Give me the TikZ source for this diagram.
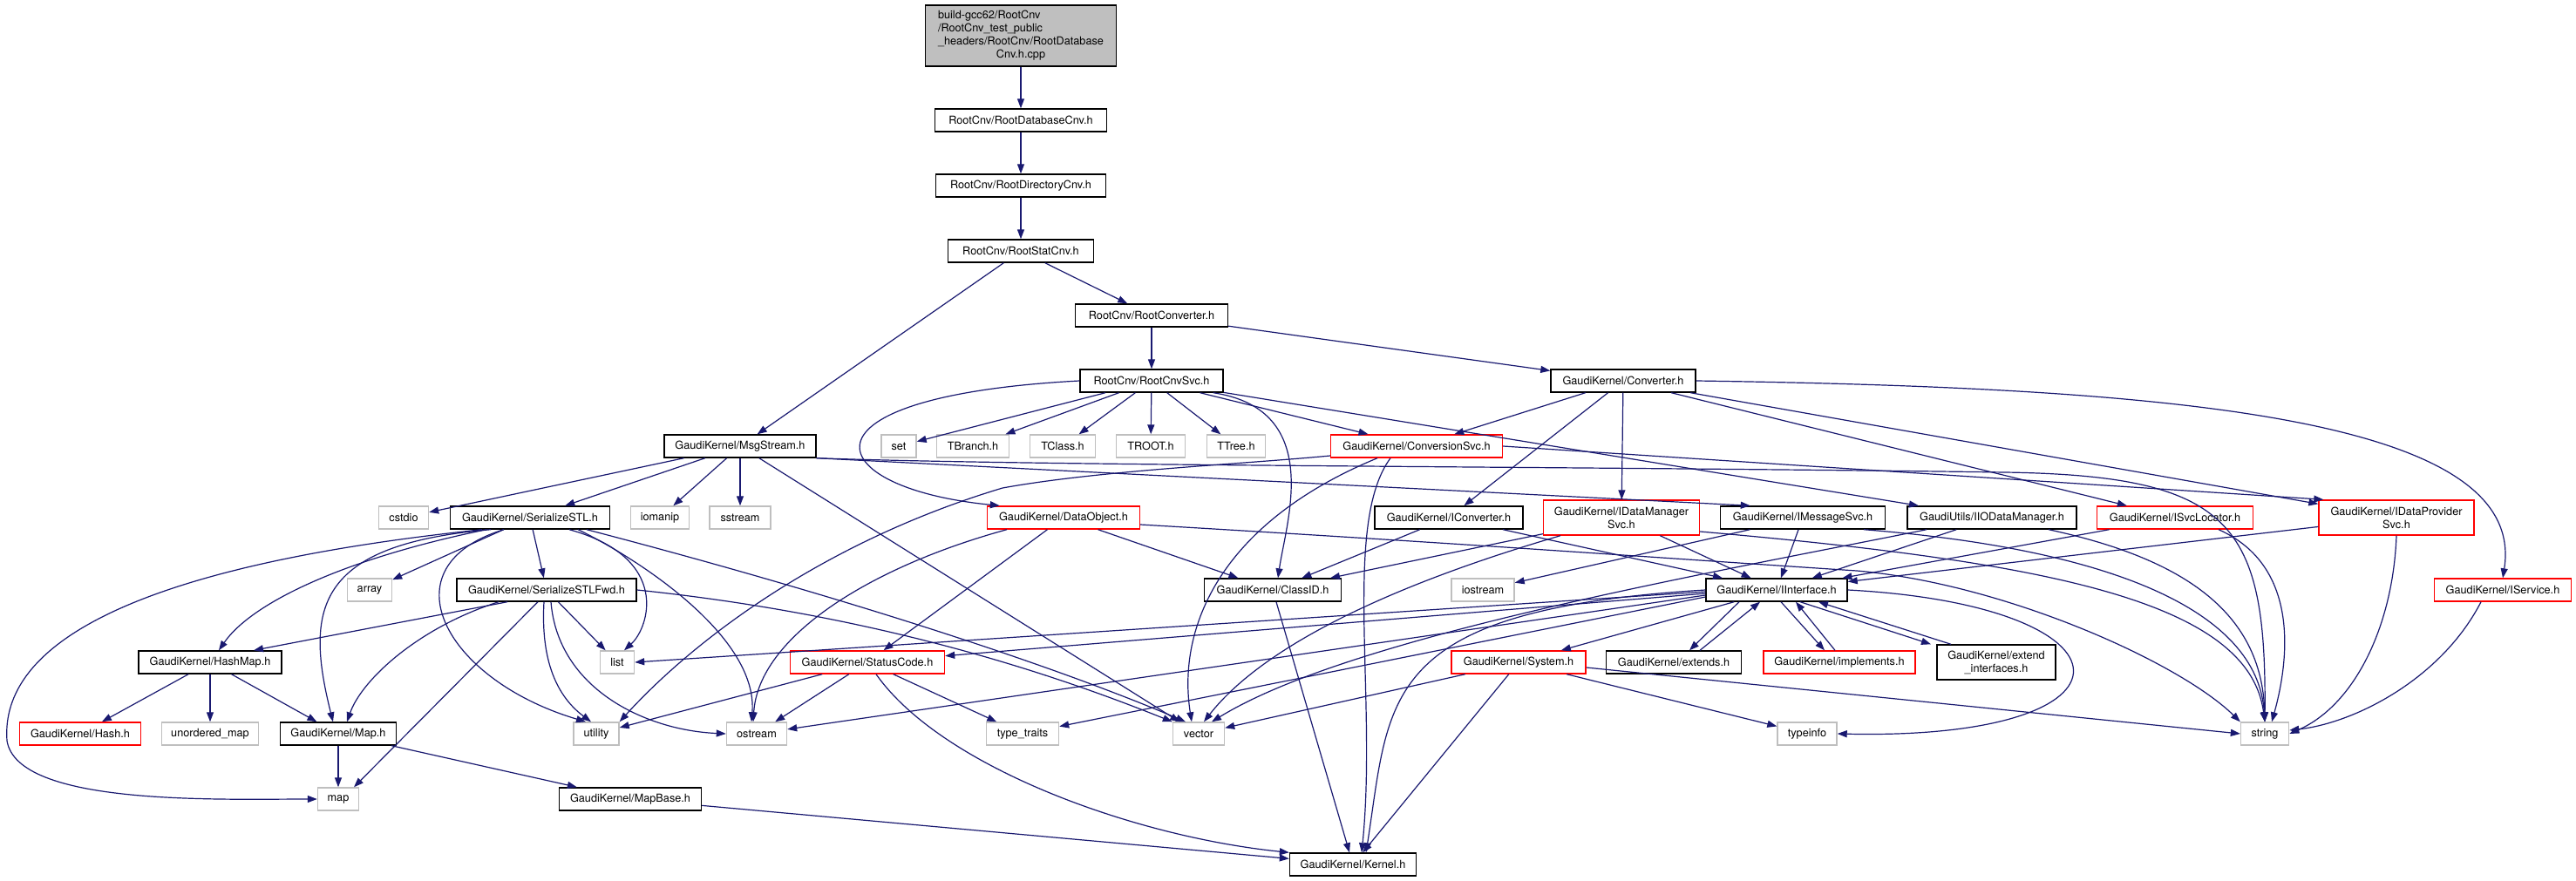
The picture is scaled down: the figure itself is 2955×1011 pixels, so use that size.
\documentclass[tikz,border=0pt]{standalone}
\usepackage{fontspec}
\setmainfont{TeX Gyre Heros}
\usetikzlibrary{arrows.meta}
\definecolor{incblue}{HTML}{191970}
\definecolor{sysgray}{HTML}{BFBFBF}

\begin{document}
\begin{tikzpicture}[x=1pt,y=-1pt,
    hdr/.style={draw=black,line width=1.4pt,fill=white,inner sep=0pt,minimum height=26pt,
      font=\fontsize{12.7}{15}\selectfont,align=center},
    sys/.style={hdr,draw=sysgray},
    trunc/.style={hdr,draw=red},
    inc/.style={draw=incblue,line width=1.2pt,-{Triangle[length=11pt,width=8pt]}}]
    \path[use as bounding box,fill=white] (0,0) rectangle (2955,1011);

    \node[hdr,fill=sysgray,minimum width=219pt,minimum height=70pt] (top) at (1171,41)
      {\begin{tabular}{@{}l@{}}build-gcc62/RootCnv\\/RootCnv\_test\_public\\\_headers/RootCnv/RootDatabase\\\multicolumn{1}{@{}c@{}}{Cnv.h.cpp}\end{tabular}};
    \node[hdr,minimum width=197pt] (rdb) at (1171,138) {RootCnv/RootDatabaseCnv.h};
    \node[hdr,minimum width=195pt] (rdir) at (1171,213) {RootCnv/RootDirectoryCnv.h};
    \node[hdr,minimum width=167pt] (rstat) at (1171,288) {RootCnv/RootStatCnv.h};
    \node[hdr,minimum width=175pt] (rconv) at (1321,362) {RootCnv/RootConverter.h};
    \node[hdr,minimum width=164pt] (rsvc) at (1321,437) {RootCnv/RootCnvSvc.h};
    \node[hdr,minimum width=166pt] (conv) at (1862,437) {GaudiKernel/Converter.h};

    \node[hdr,minimum width=174pt] (msg) at (849,512) {GaudiKernel/MsgStream.h};
    \node[sys,minimum width=40pt] (set) at (1031,512) {set};
    \node[sys,minimum width=83pt] (tbranch) at (1116,512) {TBranch.h};
    \node[sys,minimum width=75pt] (tclass) at (1219,512) {TClass.h};
    \node[sys,minimum width=79pt] (troot) at (1320,512) {TROOT.h};
    \node[sys,minimum width=67pt] (ttree) at (1418,512) {TTree.h};
    \node[trunc,minimum width=197pt] (cnvsvc) at (1625,512) {GaudiKernel/ConversionSvc.h};

    \node[sys,minimum width=57pt] (cstdio) at (463,594) {cstdio};
    \node[hdr,minimum width=183pt] (sstl) at (608,594) {GaudiKernel/SerializeSTL.h};
    \node[sys,minimum width=67pt] (iomanip) at (757,594) {iomanip};
    \node[sys,minimum width=70pt] (sstream) at (849,594) {sstream};
    \node[trunc,minimum width=175pt] (dobj) at (1220,594) {GaudiKernel/DataObject.h};
    \node[hdr,minimum width=170pt] (iconv) at (1662,594) {GaudiKernel/IConverter.h};
    \node[trunc,minimum width=179pt,minimum height=40pt] (idm) at (1860,594) {GaudiKernel/IDataManager\\Svc.h};
    \node[hdr,minimum width=189pt] (imsg) at (2068,594) {GaudiKernel/IMessageSvc.h};
    \node[hdr,minimum width=194pt] (iio) at (2285,594) {GaudiUtils/IIODataManager.h};
    \node[trunc,minimum width=179pt] (isvc) at (2495,594) {GaudiKernel/ISvcLocator.h};
    \node[trunc,minimum width=178pt,minimum height=40pt] (idp) at (2749,594) {GaudiKernel/IDataProvider\\Svc.h};

    \node[sys,minimum width=51pt] (array) at (424,677) {array};
    \node[hdr,minimum width=206pt] (sstlf) at (627,677) {GaudiKernel/SerializeSTLFwd.h};
    \node[hdr,minimum width=157pt] (classid) at (1460,677) {GaudiKernel/ClassID.h};
    \node[sys,minimum width=72pt] (iostream) at (1701,677) {iostream};
    \node[hdr,minimum width=162pt] (iint) at (2038,677) {GaudiKernel/IInterface.h};
    \node[trunc,minimum width=157pt] (iserv) at (2871,677) {GaudiKernel/IService.h};

    \node[hdr,minimum width=164pt] (hashmap) at (241,760) {GaudiKernel/HashMap.h};
    \node[sys,minimum width=39pt] (list) at (708,760) {list};
    \node[trunc,minimum width=177pt] (status) at (995,760) {GaudiKernel/StatusCode.h};
    \node[trunc,minimum width=154pt] (system) at (1742,760) {GaudiKernel/System.h};
    \node[hdr,minimum width=155pt] (extends) at (1920,760) {GaudiKernel/extends.h};
    \node[trunc,minimum width=174pt] (impl) at (2110,760) {GaudiKernel/implements.h};
    \node[hdr,minimum width=136pt,minimum height=40pt] (extif) at (2290,760) {GaudiKernel/extend\\\_interfaces.h};

    \node[trunc,minimum width=139pt] (hash) at (92,842) {GaudiKernel/Hash.h};
    \node[sys,minimum width=111pt] (umap) at (241,842) {unordered\_map};
    \node[hdr,minimum width=133pt] (mapH) at (388,842) {GaudiKernel/Map.h};
    \node[sys,minimum width=52pt] (utility) at (684,842) {utility};
    \node[sys,minimum width=69pt] (ostream) at (868,842) {ostream};
    \node[sys,minimum width=83pt] (ttraits) at (1173,842) {type\_traits};
    \node[sys,minimum width=59pt] (vector) at (1375,842) {vector};
    \node[sys,minimum width=68pt] (typeinfo) at (2073,842) {typeinfo};
    \node[sys,minimum width=55pt] (string) at (2598,842) {string};

    \node[sys,minimum width=47pt] (map) at (388,917) {map};
    \node[hdr,minimum width=163pt] (mapbase) at (723,917) {GaudiKernel/MapBase.h};
    \node[hdr,minimum width=145pt] (kernel) at (1552,992) {GaudiKernel/Kernel.h};

    \draw[inc] (top) -- (rdb);
    \draw[inc] (rdb) -- (rdir);
    \draw[inc] (rdir) -- (rstat);
    \draw[inc] (rstat) -- (rconv);
    \draw[inc] (rstat) -- (msg);
    \draw[inc] (rconv) -- (rsvc);
    \draw[inc] (rconv) -- (conv);

    \draw[inc] (rsvc) -- (set);
    \draw[inc] (rsvc) -- (tbranch);
    \draw[inc] (rsvc) -- (tclass);
    \draw[inc] (rsvc) -- (troot);
    \draw[inc] (rsvc) -- (ttree);
    \draw[inc] (rsvc) -- (cnvsvc);
    \draw[inc] (rsvc) -- (iio);
    \draw[inc] (rsvc.west) .. controls (900,455) and (940,560) .. ([xshift=15pt]dobj.north west);
    \draw[inc] ([xshift=-12pt]rsvc.south east) .. controls (1520,470) and (1475,600) .. ([xshift=6pt]classid.north);

    \draw[inc] (conv) -- (cnvsvc);
    \draw[inc] (conv) -- (iconv);
    \draw[inc] (conv) -- (idm);
    \draw[inc] (conv) -- (isvc);
    \draw[inc] (conv) -- (idp);
    \draw[inc] (conv.east) .. controls (2500,445) and (2900,480) .. (iserv.north);

    \draw[inc] (msg) -- (cstdio);
    \draw[inc] (msg) -- (sstl);
    \draw[inc] (msg) -- (iomanip);
    \draw[inc] (msg) -- (sstream);
    \draw[inc] (msg) -- (vector);
    \draw[inc] (msg.south east) -- ([xshift=35pt]imsg.north west);
    \draw[inc] (msg.south east) .. controls (1200,535) and (1800,535) .. (2300,542) .. controls (2560,546) and (2600,600) .. (string.north);

    \draw[inc] (cnvsvc.east) -- ([xshift=6pt]idp.north west);
    \draw[inc] ([yshift=-11pt]cnvsvc.west) .. controls (1420,533) and (1260,540) .. (1150,560) .. controls (950,620) and (800,730) .. (utility.north east);
    \draw[inc] ([xshift=-45pt]cnvsvc.south) .. controls (1400,600) and (1350,720) .. ([xshift=-8pt]vector.north);
    \draw[inc] ([xshift=-30pt]cnvsvc.south) .. controls (1540,600) and (1580,800) .. ([xshift=10pt]kernel.north);

    \draw[inc] (dobj) -- (classid);
    \draw[inc] (dobj) -- (status);
    \draw[inc] ([xshift=-65pt]dobj.south) .. controls (1000,650) and (870,730) .. ([xshift=-4pt]ostream.north);
    \draw[inc] ([yshift=-8pt]dobj.east) .. controls (1700,625) and (1900,640) .. (2130,655) .. controls (2300,670) and (2500,760) .. (string.north west);

    \draw[inc] ([xshift=-55pt]sstl.south) .. controls (150,650) and (0,740) .. (8,850) .. controls (20,925) and (250,917) .. (map.west);
    \draw[inc] ([xshift=-50pt]sstl.south) .. controls (400,640) and (290,690) .. ([xshift=10pt]hashmap.north);
    \draw[inc] ([xshift=-45pt]sstl.south) .. controls (360,625) and (350,700) .. ([xshift=-6pt]mapH.north);
    \draw[inc] (sstl) -- (array);
    \draw[inc] (sstl) -- (sstlf);
    \draw[inc] ([xshift=-30pt]sstl.south) .. controls (440,650) and (510,780) .. ([xshift=-12pt]utility.north);
    \draw[inc] ([xshift=45pt]sstl.south) .. controls (770,640) and (745,720) .. ([xshift=8pt]list.north);
    \draw[inc] ([xshift=55pt]sstl.south) .. controls (730,640) and (870,730) .. ([xshift=-6pt]ostream.north);
    \draw[inc] ([xshift=65pt]sstl.south) .. controls (950,680) and (1200,760) .. ([xshift=-15pt]vector.north);

    \draw[inc] ([xshift=-45pt]sstlf.south) -- ([xshift=50pt]hashmap.north);
    \draw[inc] ([xshift=-55pt]sstlf.south) .. controls (480,720) and (415,780) .. ([xshift=10pt]mapH.north);
    \draw[inc] ([xshift=-10pt]sstlf.south) -- ([xshift=18pt]map.north);
    \draw[inc] ([xshift=-3pt]sstlf.south) .. controls (620,760) and (640,800) .. ([xshift=-6pt]utility.north);
    \draw[inc] ([xshift=5pt]sstlf.south) .. controls (640,790) and (740,838) .. (ostream.west);
    \draw[inc] (sstlf) -- (list);
    \draw[inc] (sstlf.east) .. controls (1000,705) and (1200,770) .. (vector.north west);

    \draw[inc] (hashmap) -- (hash);
    \draw[inc] (hashmap) -- (umap);
    \draw[inc] (hashmap) -- (mapH);
    \draw[inc] (mapH) -- (map);
    \draw[inc] (mapH) -- (mapbase);
    \draw[inc] (mapbase) -- (kernel);

    \draw[inc] (status) -- (utility);
    \draw[inc] (status) -- (ostream);
    \draw[inc] (status) -- (ttraits);
    \draw[inc] ([xshift=10pt]status.south) .. controls (1080,880) and (1300,960) .. (kernel.north west);

    \draw[inc] (classid) -- (kernel);
    \draw[inc] (iconv) -- (classid);
    \draw[inc] (iconv) -- (iint);
    \draw[inc] (idm) -- (classid);
    \draw[inc] (idm) -- (iint);
    \draw[inc] ([xshift=-70pt]idm.south) .. controls (1600,670) and (1450,740) .. ([xshift=6pt]vector.north);
    \draw[inc] ([yshift=-16pt]idm.east) .. controls (2350,645) and (2580,690) .. (string.north);

    \draw[inc] (imsg) -- (iostream);
    \draw[inc] (imsg) -- (iint);
    \draw[inc] ([xshift=70pt]imsg.south) .. controls (2420,630) and (2590,700) .. (string.north);

    \draw[inc] (iio) -- (iint);
    \draw[inc] ([xshift=-75pt]iio.south) .. controls (1950,660) and (1550,730) .. ([xshift=15pt]vector.north);
    \draw[inc] ([xshift=65pt]iio.south) .. controls (2500,640) and (2595,700) .. (string.north);

    \draw[inc] (isvc) -- (iint);
    \draw[inc] ([xshift=50pt]isvc.south) .. controls (2640,650) and (2625,760) .. ([xshift=8pt]string.north);

    \draw[inc] (idp) -- (iint);
    \draw[inc] (idp.south) .. controls (2745,720) and (2700,810) .. (string.east);
    \draw[inc] ([xshift=-25pt]iserv.south) .. controls (2800,780) and (2700,830) .. ([yshift=4pt]string.east);

    \draw[inc] ([yshift=-2pt]iint.west) -- (list.east);
    \draw[inc] ([yshift=-4pt]iint.west) -- (status);
    \draw[inc] ([yshift=-6pt]iint.west) -- (ostream);
    \draw[inc] ([yshift=-8pt]iint.west) -- (ttraits);
    \draw[inc] (iint) -- (system);
    \draw[inc] ([xshift=-43pt]iint.south) -- ([xshift=18pt]extends.north);
    \draw[inc] ([xshift=30pt]extends.north) -- ([xshift=-19pt]iint.south);
    \draw[inc] ([xshift=5pt]iint.south) -- ([xshift=-17pt]impl.north);
    \draw[inc] ([xshift=-5pt]impl.north) -- ([xshift=22pt]iint.south);
    \draw[inc] ([xshift=27pt]iint.south) -- ([xshift=-75pt]extif.north);
    \draw[inc] ([xshift=-52pt]extif.north) -- ([xshift=48pt]iint.south);
    \draw[inc] (iint.west) .. controls (1580,700) and (1595,800) .. ([xshift=15pt]kernel.north);
    \draw[inc] (iint.east) .. controls (2460,695) and (2470,850) .. (typeinfo.east);

    \draw[inc] (system) -- (vector);
    \draw[inc] (system) -- (kernel);
    \draw[inc] (system) -- (typeinfo);
    \draw[inc] ([yshift=-6pt]system.east) -- (string.west);
\end{tikzpicture}
\end{document}
